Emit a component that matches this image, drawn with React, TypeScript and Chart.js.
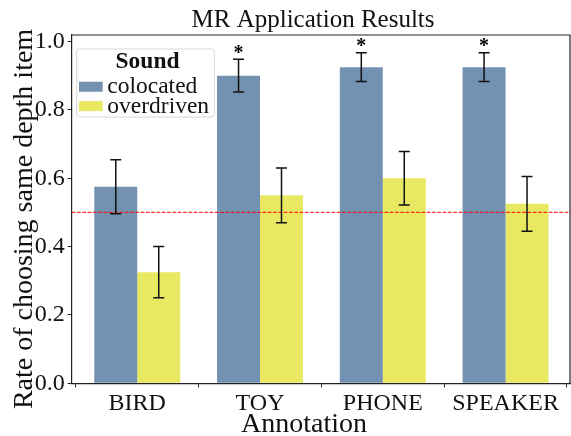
import React, { useEffect, useRef } from "react";
import { Chart, registerables } from "chart.js";

Chart.register(...registerables);

const categories = ["BIRD", "TOY", "PHONE", "SPEAKER"];
const colocated = [0.575, 0.9, 0.925, 0.925];
const overdriven = [0.325, 0.55, 0.6, 0.525];
const colocatedErr = [0.079, 0.048, 0.042, 0.042];
const overdrivenErr = [0.075, 0.08, 0.078, 0.08];
const significant = [false, true, true, true];
const yTicks = [0, 0.2, 0.4, 0.6, 0.8, 1.0];
const chanceLevel = 0.5;
const seriesLabels = ["colocated", "overdriven"];
const legendTitle = "Sound";
const chartTitle = "MR Application Results";
const xTitle = "Annotation";
const yTitle = "Rate of choosing same depth item";

const FONT = "'Liberation Serif', 'Times New Roman', serif";
const BLUE = "#7391b1";
const YELLOW = "#e8e863";

const overlayPlugin = {
  id: "overlay",
  afterDatasetsDraw(chart: any) {
    const { ctx, chartArea: ca, scales } = chart;
    const y = scales.y;
    ctx.save();
    // chance line
    const yy = y.getPixelForValue(chanceLevel);
    ctx.strokeStyle = "rgba(255,0,0,0.8)";
    ctx.lineWidth = 1.2;
    ctx.setLineDash([3.7, 1.6]);
    ctx.beginPath();
    ctx.moveTo(ca.left, yy);
    ctx.lineTo(ca.right, yy);
    ctx.stroke();
    ctx.setLineDash([]);
    // error bars
    const errs = [colocatedErr, overdrivenErr];
    chart.data.datasets.forEach((ds: any, di: number) => {
      const meta = chart.getDatasetMeta(di);
      meta.data.forEach((bar: any, i: number) => {
        const v = ds.data[i].y;
        const e = errs[di][i];
        const top = y.getPixelForValue(v + e);
        const bot = y.getPixelForValue(v - e);
        const cx = bar.x;
        ctx.strokeStyle = "#111";
        ctx.lineWidth = 1.5;
        ctx.beginPath();
        ctx.moveTo(cx, top);
        ctx.lineTo(cx, bot);
        ctx.moveTo(cx - 5.5, top);
        ctx.lineTo(cx + 5.5, top);
        ctx.moveTo(cx - 5.5, bot);
        ctx.lineTo(cx + 5.5, bot);
        ctx.stroke();
        if (di === 0 && significant[i]) {
          ctx.fillStyle = "#000";
          ctx.font = `bold 20px ${FONT}`;
          ctx.textAlign = "center";
          ctx.textBaseline = "alphabetic";
          ctx.fillText("*", cx, top - 0.5);
        }
      });
    });
    ctx.restore();
  },
  afterDraw(chart: any) {
    const { ctx, chartArea: ca } = chart;
    ctx.save();
    // top and right spines
    ctx.strokeStyle = "#222";
    ctx.lineWidth = 1.2;
    ctx.beginPath();
    ctx.moveTo(ca.left, ca.top);
    ctx.lineTo(ca.right, ca.top);
    ctx.lineTo(ca.right, ca.bottom);
    ctx.stroke();
    // title
    ctx.fillStyle = "#111";
    ctx.font = `25px ${FONT}`;
    ctx.textAlign = "center";
    ctx.textBaseline = "alphabetic";
    ctx.fillText(chartTitle, 313, 27);
    // x title
    ctx.font = `28px ${FONT}`;
    ctx.fillText(xTitle, 304, 432);
    // y title
    ctx.save();
    ctx.translate(31.7, 219);
    ctx.rotate(-Math.PI / 2);
    ctx.fillText(yTitle, 0, 0);
    ctx.restore();
    // legend
    const lx = 76.7, ly = 49, lw = 137.6, lh = 68, r = 3;
    ctx.beginPath();
    ctx.moveTo(lx + r, ly);
    ctx.lineTo(lx + lw - r, ly);
    ctx.quadraticCurveTo(lx + lw, ly, lx + lw, ly + r);
    ctx.lineTo(lx + lw, ly + lh - r);
    ctx.quadraticCurveTo(lx + lw, ly + lh, lx + lw - r, ly + lh);
    ctx.lineTo(lx + r, ly + lh);
    ctx.quadraticCurveTo(lx, ly + lh, lx, ly + lh - r);
    ctx.lineTo(lx, ly + r);
    ctx.quadraticCurveTo(lx, ly, lx + r, ly);
    ctx.closePath();
    ctx.fillStyle = "rgba(255,255,255,0.8)";
    ctx.fill();
    ctx.strokeStyle = "#d6d6d6";
    ctx.lineWidth = 1;
    ctx.stroke();
    ctx.fillStyle = "#111";
    ctx.font = `bold 23.5px ${FONT}`;
    ctx.textAlign = "center";
    ctx.fillText(legendTitle, 147.5, 67.7);
    ctx.textAlign = "left";
    ctx.font = `23.5px ${FONT}`;
    const baselines = [93.3, 112.7];
    chart.data.datasets.forEach((ds: any, di: number) => {
      const b = baselines[di];
      ctx.fillStyle = ds.backgroundColor;
      ctx.fillRect(79, b - 11.6, 23.7, 10);
      ctx.fillStyle = "#111";
      ctx.fillText(ds.label, 107.3, b);
    });
    ctx.restore();
  },
};

export default function App() {
  const ref = useRef<HTMLCanvasElement | null>(null);
  useEffect(() => {
    if (!ref.current) return;
    const chart = new Chart(ref.current, {
      type: "bar",
      data: {
        datasets: [
          {
            label: seriesLabels[0],
            data: categories.map((_, i) => ({ x: i, y: colocated[i] })),
            backgroundColor: BLUE,
            borderWidth: 0,
          },
          {
            label: seriesLabels[1],
            data: categories.map((_, i) => ({ x: i, y: overdriven[i] })),
            backgroundColor: YELLOW,
            borderWidth: 0,
          },
        ],
      },
      options: {
        animation: false,
        responsive: false,
        devicePixelRatio: 1,
        layout: { padding: { top: 35, right: 1, left: 0, bottom: 0 } },
        datasets: { bar: { categoryPercentage: 0.7, barPercentage: 1 } },
        plugins: { legend: { display: false }, title: { display: false }, tooltip: { enabled: false } },
        scales: {
          x: {
            type: "linear",
            min: -0.534,
            max: 3.525,
            offset: false,
            afterBuildTicks: (s: any) => {
              s.ticks = categories.map((_, i) => ({ value: i }));
            },
            afterFit: (s: any) => {
              s.height = 52.7;
            },
            ticks: {
              autoSkip: false,
              maxRotation: 0,
              padding: 2,
              color: "#111",
              font: { family: FONT, size: 24 },
              callback: (v: any) => categories[Math.round(Number(v))] ?? "",
            },
            grid: { drawOnChartArea: false, drawTicks: true, tickLength: 4, color: "#222", lineWidth: 1 },
            border: { display: true, color: "#222", width: 1.2 },
          },
          y: {
            type: "linear",
            min: 0,
            max: 1.019,
            afterBuildTicks: (s: any) => {
              s.ticks = yTicks.map((v) => ({ value: v }));
            },
            afterFit: (s: any) => {
              s.width = 71.7;
            },
            ticks: {
              padding: 3,
              color: "#111",
              font: { family: FONT, size: 24 },
              callback: (v: any) => Number(v).toFixed(1),
            },
            grid: { drawOnChartArea: false, drawTicks: true, tickLength: 4, color: "#222", lineWidth: 1 },
            border: { display: true, color: "#222", width: 1.2 },
          },
        },
      },
      plugins: [overlayPlugin],
    });
    return () => chart.destroy();
  }, []);
  return (
    <div style={{ position: "fixed", left: 0, top: 0, width: 571, height: 436, background: "#fff" }}>
      <canvas ref={ref} width={571} height={436} style={{ display: "block" }} />
    </div>
  );
}
